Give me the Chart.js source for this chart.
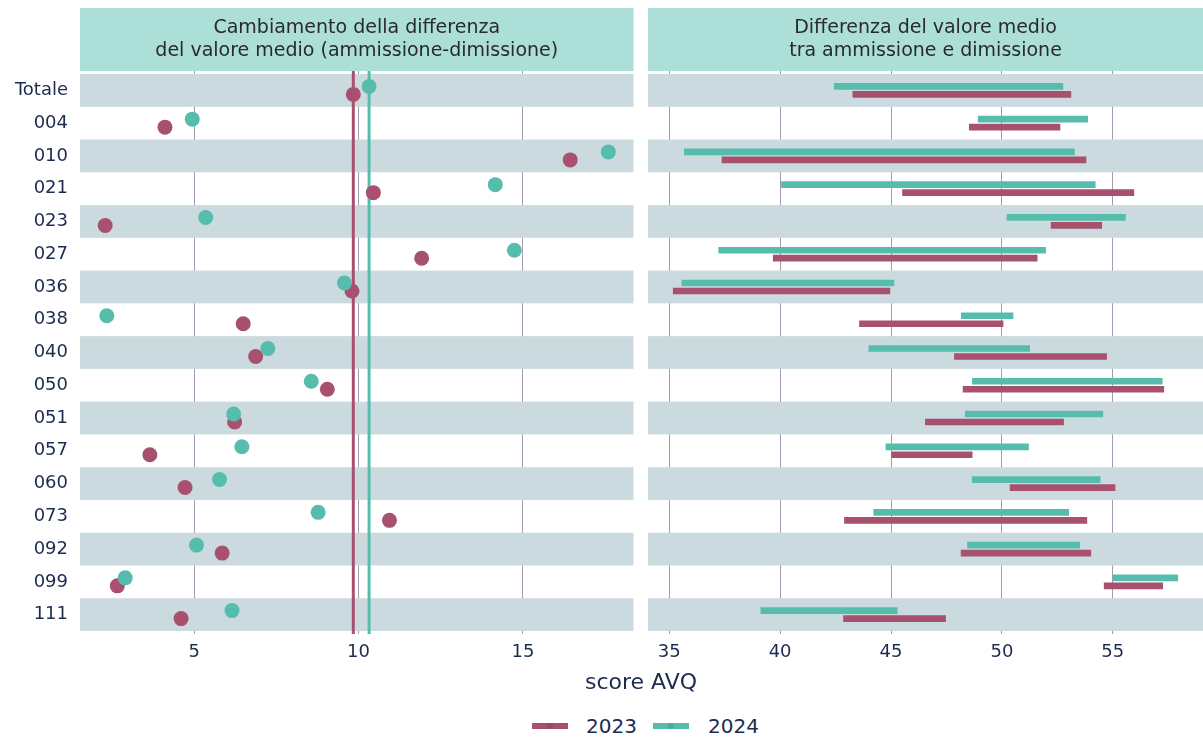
<!DOCTYPE html>
<html>
<head>
<meta charset="utf-8">
<script src="https://cdn.jsdelivr.net/npm/chart.js@4.4.1/dist/chart.umd.min.js"></script>
<style>
  html, body { margin: 0; padding: 0; background: #ffffff; width: 1203px; height: 740px; overflow: hidden; font-family: "DejaVu Sans", sans-serif; }
  #w1 { position: absolute; left: 0; top: 0; width: 641px; height: 680px; }
  #w2 { position: absolute; left: 641px; top: 0; width: 562px; height: 680px; }
  #xtitle { position: absolute; left: 441px; width: 400px; top: 668px; text-align: center; font-size: 22px; line-height: 28px; color: #1c2b4f; }
  .leg { position: absolute; top: 713px; height: 26px; font-size: 20px; line-height: 26px; color: #1c2b4f; }
  .sym { position: absolute; top: 10px; width: 36px; height: 6px; }
  .dot { position: absolute; left: 15px; top: 0px; width: 6px; height: 6px; border-radius: 50%; filter: brightness(0.9); }
</style>
</head>
<body>
<div id="w1"><canvas id="c1" width="641" height="680"></canvas></div>
<div id="w2"><canvas id="c2" width="562" height="680"></canvas></div>
<div id="xtitle">score AVQ</div>
<div class="leg" style="left:532px; width:110px;"><div class="sym" style="background:#a8516e"><div class="dot" style="background:#a8516e"></div></div><span style="position:absolute; left:54px;">2023</span></div>
<div class="leg" style="left:653px; width:110px;"><div class="sym" style="background:#56bdad"><div class="dot" style="background:#56bdad"></div></div><span style="position:absolute; left:55px;">2024</span></div>
<script>
// ---------------- data ----------------
const categories = ['Totale','004','010','021','023','027','036','038','040','050','051','057','060','073','092','099','111'];
const years = ['2023', '2024'];

// change of the difference of the mean value (left panel)
const diff2023 = [9.84, 4.11, 16.44, 10.45, 2.29, 11.92, 9.80, 6.49, 6.87, 9.05, 6.23, 3.65, 4.72, 10.94, 5.85, 2.66, 4.60];
const diff2024 = [10.32, 4.94, 17.60, 14.16, 5.35, 14.74, 9.57, 2.34, 7.24, 8.56, 6.20, 6.45, 5.77, 8.77, 5.07, 2.90, 6.15];

// mean values range (right panel)
const low2023  = [43.28, 48.53, 37.38, 45.52, 52.22, 39.69, 35.18, 43.58, 47.86, 48.25, 46.55, 45.03, 50.37, 42.90, 48.16, 54.61, 42.86];
const high2023 = [53.11, 52.62, 53.79, 55.95, 54.50, 51.59, 44.95, 50.05, 54.72, 57.30, 52.78, 48.66, 55.10, 53.83, 54.01, 57.25, 47.46];
const low2024  = [42.44, 48.93, 35.68, 40.06, 50.23, 37.23, 35.57, 48.17, 44.00, 48.67, 48.35, 44.77, 48.66, 44.22, 48.45, 55.02, 39.13];
const high2024 = [52.75, 53.87, 53.27, 54.21, 55.57, 51.97, 45.13, 50.50, 51.25, 57.23, 54.55, 51.20, 54.43, 53.01, 53.51, 57.93, 45.28];

const leftTicks = [5, 10, 15];
const rightTicks = [35, 40, 45, 50, 55];

const leftTitle = ['Cambiamento della differenza', 'del valore medio (ammissione-dimissione)'];
const rightTitle = ['Differenza del valore medio', 'tra ammissione e dimissione'];

// ---------------- style ----------------
const C2023 = '#a8516e';
const C2024 = '#56bdad';
const STRIP = '#acdfd8';
const BAND = '#cbdadf';
const GRID = '#a29cb0';
const TXT = '#1c2b4f';
const FONT = '"DejaVu Sans", sans-serif';
const DODGE = 0.122;
const YPAD = 0.0915;

function expand(vals) {
  const mn = Math.min(...vals), mx = Math.max(...vals);
  const r = mx - mn;
  return [mn - 0.05 * r, mx + 0.05 * r];
}

const decor = {
  id: 'decor',
  beforeDraw(chart) {
    const { ctx } = chart;
    const t = chart.titleBlock;
    ctx.save();
    ctx.fillStyle = STRIP;
    ctx.fillRect(t.left, t.top, t.width, t.height);
    ctx.restore();
  },
  beforeDatasetsDraw(chart) {
    const { ctx, chartArea, scales } = chart;
    const y = scales.y;
    ctx.save();
    ctx.fillStyle = BAND;
    for (let i = 0; i < categories.length; i += 2) {
      const a = y.getPixelForValue(i - 0.5), b = y.getPixelForValue(i + 0.5);
      ctx.fillRect(chartArea.left, Math.min(a, b), chartArea.right - chartArea.left, Math.abs(b - a));
    }
    ctx.restore();
  }
};

const yMin = -0.5 - YPAD, yMax = categories.length - 0.5 + YPAD;

function titleOpts(lines) {
  return {
    display: true,
    text: lines,
    fullSize: false,
    color: '#2a2a2a',
    font: { family: FONT, size: 19, weight: 'normal', lineHeight: 1.18 },
    padding: { top: 9.1, bottom: 9.06 }
  };
}

function xScale(range, ticks) {
  return {
    type: 'linear',
    min: range[0], max: range[1],
    offset: false,
    afterBuildTicks(s) { s.ticks = ticks.map(v => ({ value: v })); },
    afterFit(s) { s.height = 46; },
    grid: { color: GRID, lineWidth: 1, drawTicks: false, offset: false },
    border: { display: false },
    ticks: { color: TXT, font: { family: FONT, size: 18 }, padding: 8, maxRotation: 0 }
  };
}

// ---------------- left chart ----------------
const lr = expand(diff2023.concat(diff2024));
new Chart(document.getElementById('c1'), {
  type: 'scatter',
  data: {
    datasets: [
      {
        label: years[1],
        data: diff2024.map((v, i) => ({ x: v, y: i - DODGE })),
        backgroundColor: C2024, borderWidth: 0, pointRadius: 7.5, pointHoverRadius: 7.5, order: 0
      },
      {
        label: years[0],
        data: diff2023.map((v, i) => ({ x: v, y: i + DODGE })),
        backgroundColor: C2023, borderWidth: 0, pointRadius: 7.5, pointHoverRadius: 7.5, order: 1
      },
      {
        label: years[0] + ' totale',
        data: [{ x: diff2023[0], y: yMin }, { x: diff2023[0], y: yMax }],
        showLine: true, borderColor: C2023, borderWidth: 3, pointRadius: 0, order: 2
      },
      {
        label: years[1] + ' totale',
        data: [{ x: diff2024[0], y: yMin }, { x: diff2024[0], y: yMax }],
        showLine: true, borderColor: C2024, borderWidth: 3, pointRadius: 0, order: 2
      }
    ]
  },
  options: {
    responsive: false,
    animation: false,
    devicePixelRatio: 1,
    layout: { padding: { left: 0, right: 6, top: 8, bottom: 0 } },
    plugins: { legend: { display: false }, tooltip: { enabled: false }, title: titleOpts(leftTitle) },
    scales: {
      x: xScale(lr, leftTicks),
      y: {
        type: 'linear', reverse: true, min: yMin, max: yMax, offset: false,
        afterBuildTicks(s) { s.ticks = categories.map((c, i) => ({ value: i })); },
        afterFit(s) { s.width = 80; },
        grid: { display: false, drawTicks: false },
        border: { display: false },
        ticks: { color: TXT, font: { family: FONT, size: 18 }, padding: 12, autoSkip: false,
                 callback: (v) => categories[v] }
      }
    }
  },
  plugins: [decor]
});

// ---------------- right chart ----------------
const rr = expand(low2023.concat(high2023, low2024, high2024));
new Chart(document.getElementById('c2'), {
  type: 'bar',
  data: {
    datasets: [
      {
        label: years[1],
        data: low2024.map((v, i) => ({ x: [v, high2024[i]], y: i - DODGE })),
        backgroundColor: C2024, borderWidth: 0
      },
      {
        label: years[0],
        data: low2023.map((v, i) => ({ x: [v, high2023[i]], y: i + DODGE })),
        backgroundColor: C2023, borderWidth: 0
      }
    ]
  },
  options: {
    indexAxis: 'y',
    responsive: false,
    animation: false,
    devicePixelRatio: 1,
    grouped: false,
    barPercentage: 1,
    categoryPercentage: 1,
    maxBarThickness: 6,
    layout: { padding: { left: 7, right: 0, top: 8, bottom: 0 } },
    plugins: { legend: { display: false }, tooltip: { enabled: false }, title: titleOpts(rightTitle) },
    scales: {
      x: xScale(rr, rightTicks),
      y: {
        type: 'linear', reverse: true, min: yMin, max: yMax,
        offset: false,
        grid: { offset: false },
        display: false
      }
    }
  },
  plugins: [decor]
});
</script>
</body>
</html>
